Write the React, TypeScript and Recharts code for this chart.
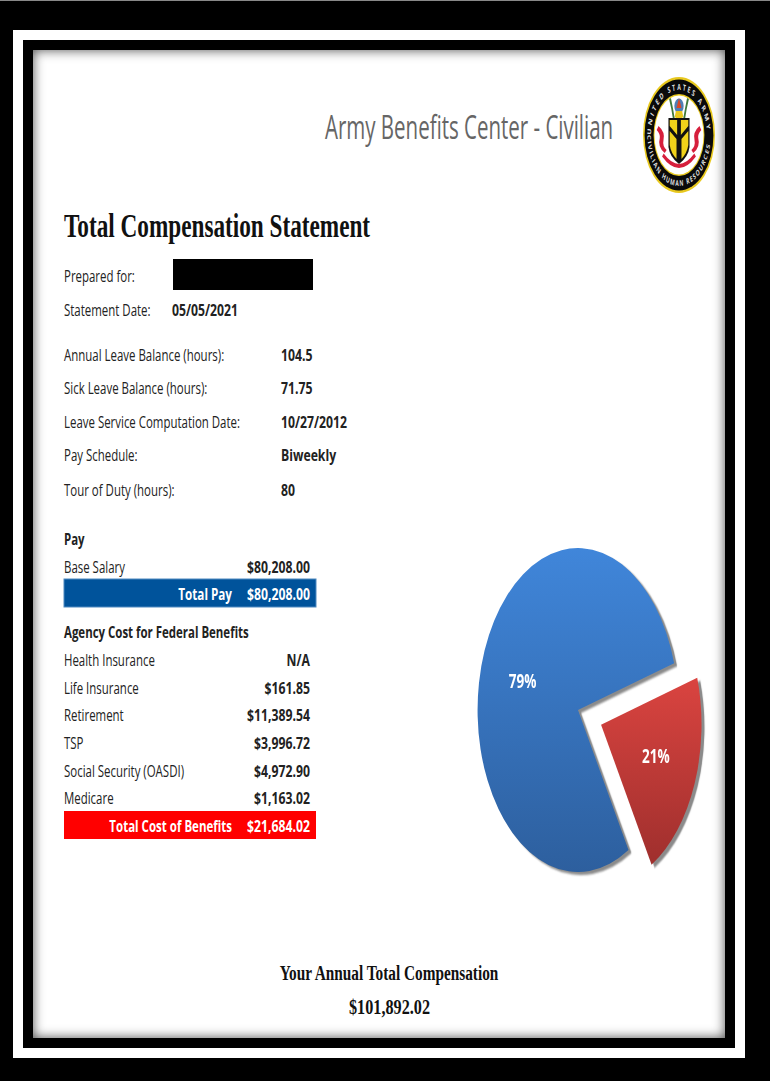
import { PieChart, Pie, Cell, Sector } from "recharts";

const sliceNames = ["Total Pay", "Total Cost of Benefits"];
const sliceValues = [80208.0, 21684.02];
const sliceGradients = ["url(#payFill)", "url(#benefitFill)"];

const leaveLabels = [
  "Annual Leave Balance (hours):",
  "Sick Leave Balance (hours):",
  "Leave Service Computation Date:",
  "Pay Schedule:",
  "Tour of Duty (hours):",
];
const leaveValues = ["104.5", "71.75", "10/27/2012", "Biweekly", "80"];
const leaveBaselines = [361, 394, 428, 461, 496];

const benefitLabels = ["Health Insurance", "Life Insurance", "Retirement", "TSP", "Social Security (OASDI)", "Medicare"];
const benefitValues = ["N/A", "$161.85", "$11,389.54", "$3,996.72", "$4,972.90", "$1,163.02"];
const benefitBaselines = [666, 694, 721, 749, 777, 804];

const pieData = sliceNames.map((name, i) => ({ name, value: sliceValues[i] }));

const SANS = "'Open Sans', sans-serif";
const SERIF = "'Liberation Serif', serif";
const SQUEEZE = 0.62;
const EXPLODE = 40;
const RAD = Math.PI / 180;
const LABEL_SX = 0.716;
const VALUE_SX = 0.765;

type TxtProps = {
  x: number;
  y: number;
  size?: number;
  bold?: boolean;
  color?: string;
  family?: string;
  sx?: number;
  anchor?: "start" | "middle" | "end";
  children: React.ReactNode;
};

// everything on the sheet is narrower than it is tall, so text gets squeezed too
function Txt({ x, y, size = 16, bold = false, color = "#222", family = SANS, sx = LABEL_SX, anchor = "start", children }: TxtProps) {
  return (
    <text
      transform={`translate(${x} ${y}) scale(${sx} 1)`}
      fontSize={size}
      fontFamily={family}
      fontWeight={bold ? 700 : 400}
      fill={color}
      textAnchor={anchor}
    >
      {children}
    </text>
  );
}

function explodedShape(props: any) {
  const { cx, cy, innerRadius, outerRadius, startAngle, endAngle, midAngle, fill, index } = props;
  const off = index === 1 ? EXPLODE : 0;
  return (
    <Sector
      cx={cx + off * Math.cos(midAngle * RAD)}
      cy={cy - off * Math.sin(midAngle * RAD)}
      innerRadius={innerRadius}
      outerRadius={outerRadius}
      startAngle={startAngle}
      endAngle={endAngle}
      fill={fill}
      stroke="none"
      style={{ filter: "drop-shadow(5px 3px 1px rgba(110,110,110,0.8))" }}
    />
  );
}

function percentLabel(props: any) {
  const { cx, cy, midAngle, percent, index } = props;
  const r = index === 1 ? 95 + EXPLODE : 96;
  const x = cx + r * Math.cos(midAngle * RAD);
  const y = cy - r * Math.sin(midAngle * RAD);
  // nudged a little off the mid angle line
  const dy = index === 1 ? 4 : 13;
  return (
    <text
      transform={`translate(${x} ${y + dy}) scale(1.15 1)`}
      textAnchor="middle"
      fontSize={19}
      fontWeight={700}
      fontFamily={SANS}
      fill="#fff"
    >
      {`${Math.round(percent * 100)}%`}
    </text>
  );
}

function Seal() {
  return (
    <g transform="translate(679 135) scale(0.62 1)">
      <circle r={58} fill="#e8c81e" />
      <circle r={55.5} fill="#0a0a0a" />
      <circle r={41} fill="#e8c81e" />
      <circle r={39.5} fill="#fff" />
      <defs>
        <path id="sealTop" d="M -45 0 A 45 45 0 0 1 45 0" />
        <path id="sealBottom" d="M -51 0 A 51 51 0 0 0 51 0" />
      </defs>
      <text fontSize={8.5} fontWeight={700} fill="#ddd" fontFamily={SANS}>
        <textPath href="#sealTop" textLength={136} lengthAdjust="spacing">UNITED STATES ARMY</textPath>
      </text>
      <text fontSize={8} fontWeight={700} fill="#ddd" fontFamily={SANS}>
        <textPath href="#sealBottom" textLength={150} lengthAdjust="spacing">CIVILIAN HUMAN RESOURCES</textPath>
      </text>
      {/* crest above the shield */}
      <circle cx={0} cy={-29} r={7.5} fill="#4f7fb5" />
      <path d="M -4 -27 L 0 -37 L 4 -27 Z" fill="#d9492a" />
      <path d="M -7 -18 Q 0 -14 7 -18 L 5 -24 L -5 -24 Z" fill="#e8c81e" />
      <path d="M -16 -36 Q -12 -26 -10 -17 L -7 -17 Q -10 -28 -13 -37 Z" fill="#3f7a3a" />
      <path d="M 16 -36 Q 12 -26 10 -17 L 7 -17 Q 10 -28 13 -37 Z" fill="#3f7a3a" />
      {/* shield */}
      <path d="M -17 -17 L 17 -17 L 17 12 Q 15 22 0 29 Q -15 22 -17 12 Z" fill="#111" />
      <path d="M -15 -15 L -3 -15 L -3 0 L -15 -9 Z M 15 -15 L 3 -15 L 3 0 L 15 -9 Z" fill="#f0d21a" />
      <path d="M -15 -4 L -4 4 L -4 24 Q -13 18 -15 10 Z M 15 -4 L 4 4 L 4 24 Q 13 18 15 10 Z" fill="#f0d21a" />
      {/* red supporters and motto */}
      <path d="M -33 -9 Q -22 -3 -25 5 Q -27 11 -20 15 L -23 18 Q -35 12 -31 3 Q -30 -1 -36 -5 Z" fill="#d61f3c" />
      <path d="M 33 -9 Q 22 -3 25 5 Q 27 11 20 15 L 23 18 Q 35 12 31 3 Q 30 -1 36 -5 Z" fill="#d61f3c" />
      <path d="M -26 20 Q 0 42 26 20" fill="none" stroke="#d61f3c" strokeWidth={4} />
    </g>
  );
}

function Sheet() {
  return (
    <svg width={770} height={1081} style={{ position: "absolute", left: 0, top: 0 }}>
      <Txt x={325} y={139} size={32} color="#666" sx={0.64}>Army Benefits Center - Civilian</Txt>
      <Seal />

      <Txt x={64} y={237} size={33} bold family={SERIF} sx={0.704} color="#111">Total Compensation Statement</Txt>

      <Txt x={64} y={282}>Prepared for:</Txt>
      <rect x={173} y={259} width={140} height={31} fill="#000" />
      <Txt x={64} y={316}>Statement Date:</Txt>
      <Txt x={172} y={316} bold sx={VALUE_SX}>05/05/2021</Txt>

      {leaveLabels.map((label, i) => (
        <g key={label}>
          <Txt x={64} y={leaveBaselines[i]}>{label}</Txt>
          <Txt x={281} y={leaveBaselines[i]} bold sx={VALUE_SX}>{leaveValues[i]}</Txt>
        </g>
      ))}

      <Txt x={64} y={545} bold>Pay</Txt>
      <Txt x={64} y={573}>Base Salary</Txt>
      <Txt x={310} y={573} bold anchor="end" sx={VALUE_SX}>$80,208.00</Txt>
      <rect x={64} y={579} width={252} height={28} fill="#00539b" stroke="#4f8ac0" />
      <Txt x={232} y={600} bold color="#fff" anchor="end" sx={0.73}>Total Pay</Txt>
      <Txt x={310} y={600} bold color="#fff" anchor="end" sx={VALUE_SX}>$80,208.00</Txt>

      <Txt x={64} y={638} bold>Agency Cost for Federal Benefits</Txt>
      {benefitLabels.map((label, i) => (
        <g key={label}>
          <Txt x={64} y={benefitBaselines[i]}>{label}</Txt>
          <Txt x={310} y={benefitBaselines[i]} bold anchor="end" sx={VALUE_SX}>{benefitValues[i]}</Txt>
        </g>
      ))}
      <rect x={64} y={811} width={252} height={28} fill="#ff0000" />
      <Txt x={232} y={832} bold color="#fff" anchor="end" sx={0.72}>Total Cost of Benefits</Txt>
      <Txt x={310} y={832} bold color="#fff" anchor="end" sx={VALUE_SX}>$21,684.02</Txt>

      <Txt x={389} y={980} size={20} bold family={SERIF} sx={0.765} anchor="middle" color="#111">Your Annual Total Compensation</Txt>
      <Txt x={389.5} y={1014} size={20} bold family={SERIF} sx={0.81} anchor="middle" color="#111">$101,892.02</Txt>
    </svg>
  );
}

export default function App() {
  return (
    <div style={{ position: "absolute", left: 0, top: 0, width: 770, height: 1081, background: "#000", overflow: "hidden" }}>
      <div style={{ position: "absolute", left: 0, top: 0, width: 770, height: 1, background: "#888" }} />
      {/* white band of the double frame */}
      <div style={{ position: "absolute", left: 13, top: 30, width: 732, height: 1028, background: "#fff" }} />
      <div style={{ position: "absolute", left: 23, top: 40, width: 712, height: 1008, background: "#000" }} />
      <div style={{ position: "absolute", left: 33, top: 50, width: 692, height: 988, background: "#fff", boxShadow: "inset 0 0 12px rgba(0,0,0,0.7)" }} />

      <Sheet />

      {/* recharts only draws circles, the transform turns this one into the tall ellipse */}
      <div style={{ position: "absolute", left: 578 - 200 * SQUEEZE, top: 520, width: 420, height: 380, transform: `scaleX(${SQUEEZE})`, transformOrigin: "left top" }}>
        <PieChart width={420} height={380} margin={{ top: 0, right: 0, bottom: 0, left: 0 }}>
          <defs>
            <linearGradient id="payFill" x1="0" y1="0" x2="0" y2="1">
              <stop offset="0%" stopColor="#4086da" />
              <stop offset="100%" stopColor="#2d5f9e" />
            </linearGradient>
            <linearGradient id="benefitFill" x1="0" y1="0" x2="0" y2="1">
              <stop offset="0%" stopColor="#da4440" />
              <stop offset="100%" stopColor="#9f2f2d" />
            </linearGradient>
          </defs>
          <Pie
            data={pieData}
            dataKey="value"
            nameKey="name"
            cx={200}
            cy={190}
            innerRadius={0}
            outerRadius={162}
            startAngle={16.8}
            endAngle={376.8}
            stroke="none"
            shape={explodedShape}
            label={percentLabel}
            labelLine={false}
            isAnimationActive={false}
          >
            {pieData.map((d, i) => (
              <Cell key={d.name} fill={sliceGradients[i]} />
            ))}
          </Pie>
        </PieChart>
      </div>
    </div>
  );
}
